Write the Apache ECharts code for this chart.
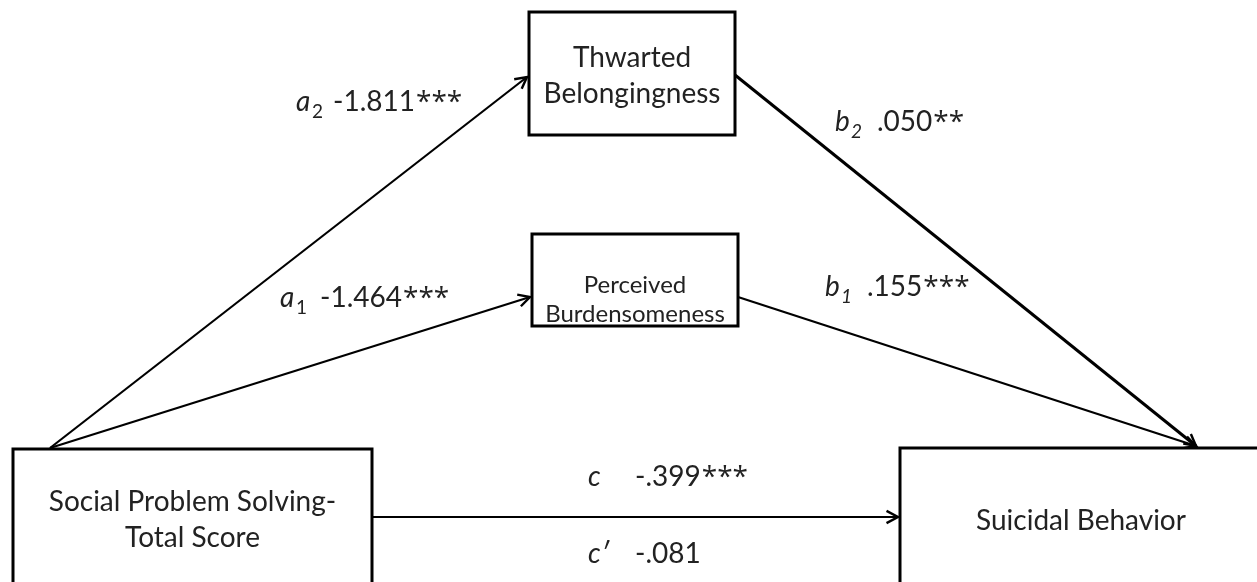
<!DOCTYPE html>
<html><head><meta charset="utf-8">
<script src="https://cdn.jsdelivr.net/npm/echarts@6/dist/echarts.min.js"></script>
<style>html,body{margin:0;padding:0;background:#fff}#c{width:1257px;height:582px}</style>
</head><body><div id="c"></div>
<script>
// ---- content ----
const nodeNames = ['Thwarted\nBelongingness', 'Perceived\nBurdensomeness', 'Social Problem Solving-\nTotal Score', 'Suicidal Behavior'];
const pathLetters = ['a', 'a', 'b', 'b', 'c', 'c\u2032'];
const pathSubs = ['2', '1', '2', '1', '', ''];
const pathValues = ['-1.811', '-1.464', '.050', '.155', '-.399', '-.081'];
const pathStars = ['***', '***', '**', '***', '***', ''];

// ---- layout (coordinates in the hidden pixel-like axes) ----
const nodeBoxes = [[529, 12, 735, 135], [532, 234, 738, 326], [13, 449, 372, 596], [900, 448, 1262, 598]];
const nodeTextY = [76, 300, 520, 521];
const nodeFont = [28, 24, 28, 28];
const nodeLineH = [36, 29, 36, 36];
const edges = [[50, 448, 527, 77], [50, 448, 530, 297], [735, 75, 1196, 446], [738, 297, 1196, 446], [372, 517, 898, 517]];
const edgeWidth = [2.2, 2.2, 3, 2.2, 2.2];
const labelPos = [[296, 102], [280, 298], [835, 122], [825, 287], [588, 477], [588, 554]];
const subItalic = [false, false, true, true, false, false];
const valueX = [333, 320, 877, 867, 635, 635];

const FONT = 'Lato, "Open Sans", sans-serif';
const STAR_FONT = '28px "Open Sans", sans-serif';
const TXT = '#222';

const mctx = document.createElement('canvas').getContext('2d');
function textW(t, f) { mctx.font = f; return mctx.measureText(t).width; }

const chart = echarts.init(document.getElementById('c'), null, {renderer: 'canvas'});

const boxData = nodeBoxes.map((b, i) => [b[0], b[1], b[2], b[3], i]);
const edgeData = edges.map((e, i) => [e[0], e[1], e[2], e[3], i]);
const labelData = labelPos.map((p, i) => [p[0], p[1], valueX[i], i]);

chart.setOption({
  animation: false,
  grid: {left: 0, right: 0, top: 0, bottom: 0},
  xAxis: {type: 'value', min: 0, max: 1257, show: false},
  yAxis: {type: 'value', min: 0, max: 582, inverse: true, show: false},
  series: [
    {
      type: 'custom', clip: false, data: edgeData,
      encode: {x: [0, 2], y: [1, 3]},
      renderItem: (params, api) => {
        const i = api.value(4);
        const p1 = api.coord([api.value(0), api.value(1)]);
        const p2 = api.coord([api.value(2), api.value(3)]);
        const dx = p2[0] - p1[0], dy = p2[1] - p1[1];
        const len = Math.hypot(dx, dy);
        const ux = dx / len, uy = dy / len;
        const L = 13, th = 28 * Math.PI / 180;
        const c = Math.cos(th), s = Math.sin(th);
        const l1 = [p2[0] - L * (ux * c - uy * s), p2[1] - L * (uy * c + ux * s)];
        const l2 = [p2[0] - L * (ux * c + uy * s), p2[1] - L * (uy * c - ux * s)];
        const w = edgeWidth[i];
        return {
          type: 'group', children: [
            {type: 'line', shape: {x1: p1[0], y1: p1[1], x2: p2[0], y2: p2[1]}, style: {stroke: '#000', lineWidth: w}},
            {type: 'polyline', shape: {points: [l1, p2, l2]}, style: {stroke: '#000', lineWidth: 2.4, fill: null, lineJoin: 'miter'}}
          ]
        };
      }
    },
    {
      type: 'custom', clip: false, data: boxData,
      encode: {x: [0, 2], y: [1, 3]},
      renderItem: (params, api) => {
        const i = api.value(4);
        const a = api.coord([api.value(0), api.value(1)]);
        const b = api.coord([api.value(2), api.value(3)]);
        const ty = api.coord([0, nodeTextY[i]])[1];
        return {
          type: 'group', children: [
            {type: 'rect', shape: {x: a[0], y: a[1], width: b[0] - a[0], height: b[1] - a[1]}, style: {fill: '#fff', stroke: '#000', lineWidth: 3}},
            {type: 'text', style: {text: nodeNames[i], x: (a[0] + b[0]) / 2, y: ty, align: 'center', verticalAlign: 'middle',
              font: nodeFont[i] + 'px ' + FONT, lineHeight: nodeLineH[i], fill: TXT}}
          ]
        };
      }
    },
    {
      type: 'custom', clip: false, data: labelData,
      encode: {x: 0, y: 1},
      renderItem: (params, api) => {
        const i = api.value(3);
        const p = api.coord([api.value(0), api.value(1)]);
        const vx = api.coord([api.value(2), 0])[0];
        const vFont = '28px ' + FONT;
        const children = [
          {type: 'text', style: {text: pathLetters[i], x: p[0], y: p[1], align: 'left', verticalAlign: 'middle',
            font: 'italic 28px ' + FONT, fill: TXT}},
          {type: 'text', style: {text: pathValues[i], x: vx, y: p[1], align: 'left', verticalAlign: 'middle',
            font: vFont, fill: TXT}}
        ];
        if (pathStars[i]) {
          children.push({type: 'text', style: {text: pathStars[i], x: vx + textW(pathValues[i], vFont) + 1, y: p[1] + 1, align: 'left', verticalAlign: 'middle',
            font: STAR_FONT, fill: TXT}});
        }
        if (pathSubs[i]) {
          children.push({type: 'text', style: {text: pathSubs[i], x: p[0] + 16, y: p[1] + 10, align: 'left', verticalAlign: 'middle',
            font: (subItalic[i] ? 'italic ' : '') + '19px ' + FONT, fill: TXT}});
        }
        return {type: 'group', children};
      }
    }
  ]
});
</script>
</body></html>
